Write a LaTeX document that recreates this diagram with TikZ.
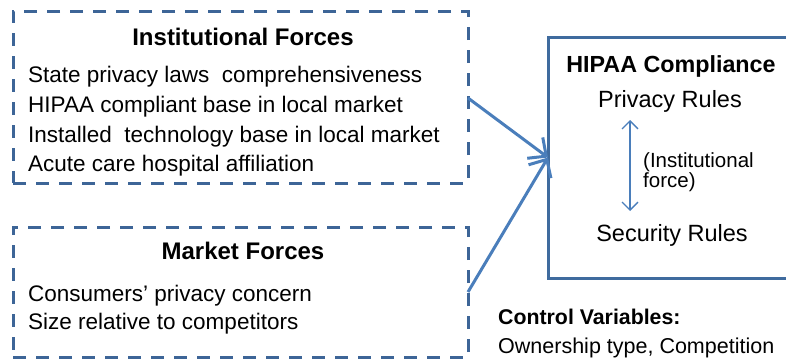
\documentclass[tikz,border=0pt]{standalone}
\usepackage{fontspec}
\setmainfont{Liberation Sans}
\usetikzlibrary{arrows.meta}
\definecolor{dashblue}{HTML}{3D6597}
\definecolor{arrowblue}{HTML}{4A7EBB}
\definecolor{boxblue}{HTML}{3F6B9E}
\tikzset{
  forcebox/.style={draw=dashblue, line width=3pt, dash pattern=on 13pt off 10pt,
    rectangle, outer sep=0pt, inner sep=0pt, anchor=north west},
  rulebox/.style={draw=boxblue, line width=3pt, rectangle, outer sep=0pt,
    inner sep=0pt, anchor=north west},
  title/.style={font=\fontsize{24}{28}\selectfont\bfseries, inner sep=0pt, anchor=base},
  item/.style={font=\fontsize{22.5}{27}\selectfont, inner sep=0pt, anchor=base west},
  rule/.style={font=\fontsize{23.5}{28}\selectfont, inner sep=0pt, anchor=base},
  small/.style={font=\fontsize{20.5}{24}\selectfont, inner sep=0pt, anchor=base west},
  flow/.style={draw=arrowblue, line width=3pt,
    -{Straight Barb[length=14pt,width=26pt,line width=3pt]}},
  twoway/.style={draw=arrowblue, line width=1.3pt,
    {Straight Barb[length=8pt,width=16pt]}-{Straight Barb[length=8pt,width=16pt]}}
}
\begin{document}
\begin{tikzpicture}[x=1pt,y=-1pt]
\useasboundingbox (0,0) rectangle (786,360);
\clip (0,0) rectangle (786,360);
% boxes
\node[forcebox, minimum width=455pt, minimum height=172pt] (inst) at (13,11) {};
\node[forcebox, minimum width=455pt, minimum height=130pt] (market) at (13,227) {};
\node[rulebox, minimum width=260pt, minimum height=241pt] (hipaa) at (548,37) {};
% institutional forces
\node[title] (insttitle) at (243,45) {Institutional Forces};
\node[item] (i1) at (28,82) {State privacy laws\ \ comprehensiveness};
\node[item] (i2) at (28,112) {HIPAA compliant base in local market};
\node[item] (i3) at (28,142) {Installed\ \ technology base in local market};
\node[item] (i4) at (28,171) {Acute care hospital affiliation};
% market forces
\node[title] (markettitle) at (243,259) {Market Forces};
\node[item] (m1) at (28,301) {Consumers’ privacy concern};
\node[item] (m2) at (28,329) {Size relative to competitors};
% compliance box contents
\node[title, font=\fontsize{23.3}{28}\selectfont\bfseries] (hipaatitle) at (671,72) {HIPAA Compliance};
\node[rule] (privacy) at (670,107) {Privacy Rules};
\node[rule] (security) at (672,241) {Security Rules};
\node[small] (inf1) at (643,167) {(Institutional};
\node[small] (inf2) at (643,187) {force)};
\coordinate (pr) at (630,120);
\coordinate (sr) at (630,211);
\draw[twoway] (pr) -- (sr);
% control variables
\node[title, anchor=base west, font=\fontsize{21.3}{26}\selectfont\bfseries] (ctrl) at (498,324) {Control Variables:};
\node[item, font=\fontsize{21.5}{26}\selectfont] (ctrlitems) at (498,353) {Ownership type, Competition};
% influence arrows
\coordinate (instout) at (468,98);
\coordinate (marketout) at (468,292);
\draw[flow] (instout) -- (hipaa.west);
\draw[flow] (marketout) -- (hipaa.west);
\end{tikzpicture}
\end{document}
